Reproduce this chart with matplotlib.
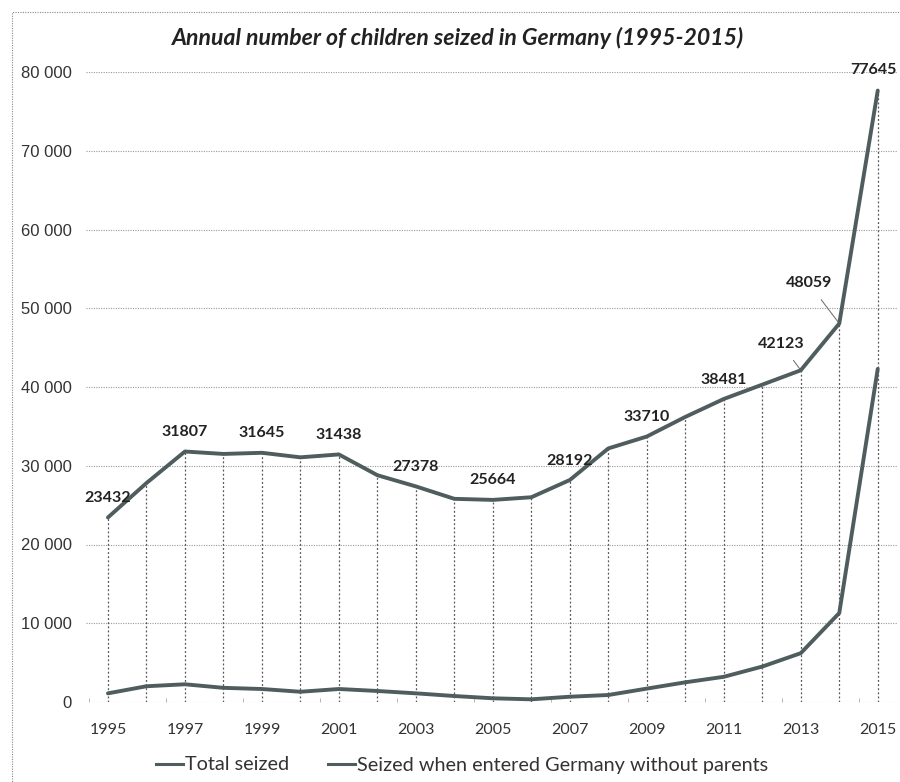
import matplotlib
matplotlib.use("Agg")
import matplotlib.pyplot as plt
from matplotlib.patches import Rectangle
from matplotlib.lines import Line2D

# Annual counts of children taken into care in Germany
years = list(range(1995, 2016))
total_seized = [23432, 27800, 31807, 31500, 31645, 31070, 31438, 28800, 27378, 25800,
                25664, 26000, 28192, 32200, 33710, 36200, 38481, 40300, 42123, 48059, 77645]
unaccompanied = [1100, 2000, 2250, 1800, 1650, 1300, 1650, 1400, 1100, 760,
                 470, 340, 670, 890, 1700, 2500, 3200, 4500, 6200, 11300, 42300]

labelled_years = [1995, 1997, 1999, 2001, 2003, 2005, 2007, 2009, 2011, 2013, 2014, 2015]
y_ticks = [0, 10000, 20000, 30000, 40000, 50000, 60000, 70000, 80000]
y_tick_labels = ["0", "10 000", "20 000", "30 000", "40 000", "50 000", "60 000", "70 000", "80 000"]
x_tick_years = list(range(1995, 2016, 2))

title = "Annual number of children seized in Germany (1995-2015)"
series_names = ["Total seized", "Seized when entered Germany without parents"]

LINE = "#4f5d5e"
TEXT = "#222222"
GRID = "#9a9a9a"

plt.rcParams["font.family"] = ["Lato", "DejaVu Sans"]

fig = plt.figure(figsize=(9.0, 7.82), dpi=100)
ax = fig.add_axes([86 / 900, 1 - 702 / 782, (897 - 86) / 900, (702 - 72) / 782])

# dotted outer frame
fig.patches.append(Rectangle((12 / 900, -0.2), 1.2, 1 - 12 / 782 + 0.2,
                             transform=fig.transFigure, fill=False,
                             edgecolor="#8a8a8a", lw=0.8, ls=(0, (1, 1.2))))

ax.set_xlim(1994.43, 2015.5)
ax.set_ylim(0, 80000)

# horizontal dotted gridlines
for v in y_ticks:
    ax.axhline(v, color=GRID, lw=0.8, ls=(0, (1, 1.2)), zorder=1)

# drop lines from the upper series to the baseline
ax.vlines(years, 0, total_seized, colors="#555555", lw=0.9,
          linestyles=(0, (1.5, 1.8)), zorder=2)

ax.plot(years, total_seized, color=LINE, lw=2.8, zorder=4, solid_capstyle="round")
ax.plot(years, unaccompanied, color=LINE, lw=2.8, zorder=4, solid_capstyle="round")

# value labels on the total series
offsets = {2013: (-14, 19), 2014: (-22, 29), 2015: (-3, 14.5)}
leaders = {2013, 2014}
for yr in labelled_years:
    val = total_seized[years.index(yr)]
    dx, dy = offsets.get(yr, (0, 14))
    if yr in leaders:
        ax.annotate(str(val), xy=(yr, val), xytext=(dx, dy), textcoords="offset points",
                    ha="center", va="center", fontsize=11.5, fontweight="bold", color=TEXT,
                    arrowprops=dict(arrowstyle="-", color="#666666", lw=0.7,
                                    shrinkA=6, shrinkB=1), zorder=6)
    else:
        ax.annotate(str(val), xy=(yr, val), xytext=(dx, dy), textcoords="offset points",
                    ha="center", va="center", fontsize=11.5, fontweight="bold", color=TEXT,
                    zorder=6)

ax.set_yticks(y_ticks)
ax.set_yticklabels(y_tick_labels, fontsize=12, color="#333333",
                   family=["Liberation Sans", "DejaVu Sans"])
ax.set_xticks(x_tick_years)
ax.set_xticklabels([str(y) for y in x_tick_years], fontsize=11.5, color="#333333")
ax.tick_params(axis="y", length=0, pad=10)
ax.tick_params(axis="x", length=0, pad=15)

# small minor marks on the baseline between category pairs
ax.set_xticks([y - 0.5 for y in x_tick_years], minor=True)
ax.tick_params(axis="x", which="minor", length=3, color="#aaaaaa", direction="in")

for s in ax.spines.values():
    s.set_visible(False)

fig.text(458 / 900, 1 - 38 / 782, title, ha="center", va="center",
         fontsize=16.6, fontweight="bold", fontstyle="italic", color=TEXT)

handles = [Line2D([], [], color=LINE, lw=2.2) for _ in series_names]
fig.legend(handles, series_names, loc="center", bbox_to_anchor=(462 / 900, 1 - 765 / 782),
           ncol=2, frameon=False, fontsize=14.3, handlelength=1.36, handletextpad=0.1,
           columnspacing=2.0, labelcolor="#333333")

fig.savefig("out.png", dpi=100, facecolor="white")
